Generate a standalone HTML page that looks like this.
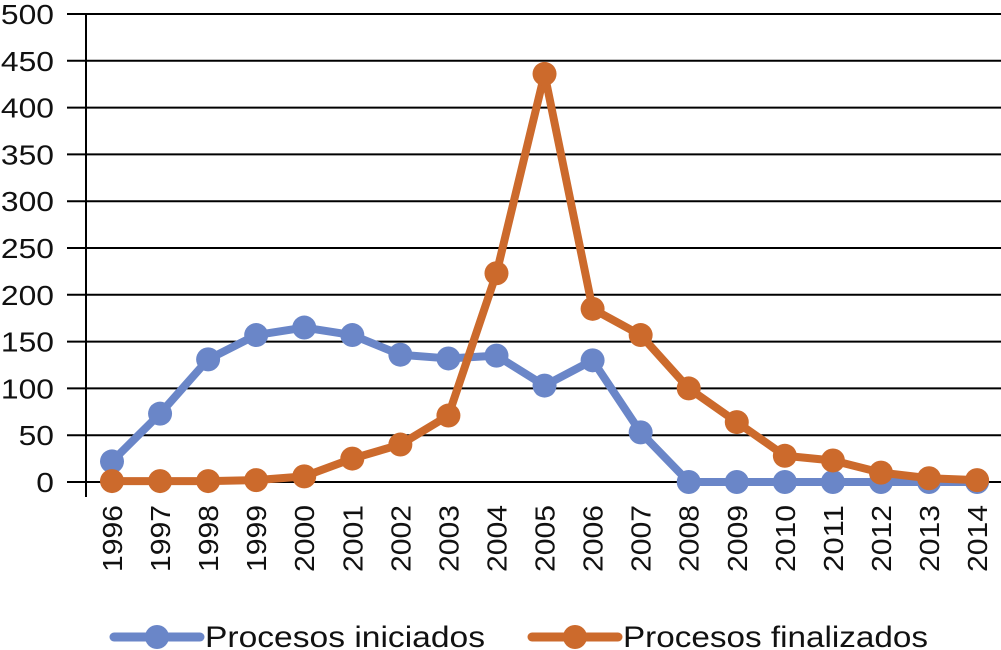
<!DOCTYPE html>
<html><head><meta charset="utf-8"><style>
html,body{margin:0;padding:0;background:#fff;width:1001px;height:650px;overflow:hidden}
text{font-family:"Liberation Sans",Arial,sans-serif;fill:#111}
</style></head><body>
<svg id="chart" width="1001" height="650" xmlns="http://www.w3.org/2000/svg"></svg>
<script>
const years=["1996","1997","1998","1999","2000","2001","2002","2003","2004","2005","2006","2007","2008","2009","2010","2011","2012","2013","2014"];
const iniciados=[22,73,131,157,165,157,136,132,135,103,130,53,0,0,0,0,0,0,0];
const finalizados=[1,1,1,2,6,25,40,71,223,436,185,157,100,64,28,23,10,4,2];
const yTicks=[0,50,100,150,200,250,300,350,400,450,500];
const svg=document.getElementById('chart');
const NS='http://www.w3.org/2000/svg';
const y0=482,y1=14,x0=112,dx=48.06;
const Y=v=>y0-(v/500)*(y0-y1);
const X=i=>x0+i*dx;
function mk(t,a){const e=document.createElementNS(NS,t);for(const k in a)e.setAttribute(k,a[k]);svg.appendChild(e);return e;}
yTicks.forEach(v=>{
  const l=mk('line',{x1:67,x2:1001,y1:Y(v),y2:Y(v),stroke:'#000','stroke-width':2});
  
  
  const s=String(v);
  const t=mk('text',{x:54,y:Y(v)+10,'text-anchor':'end','font-size':28,textLength:s.length*17.7,lengthAdjust:'spacingAndGlyphs'});
  t.textContent=v;
  
  
});
const ax=mk('line',{x1:86,x2:86,y1:14,y2:497,stroke:'#000','stroke-width':2});


years.forEach((yr,i)=>{
  const t=mk('text',{x:0,y:0,'font-size':28,'text-anchor':'end',textLength:67,lengthAdjust:'spacingAndGlyphs',transform:`translate(${X(i)+10},505) rotate(-90)`});
  t.textContent=yr;
  
  
});
function series(vals,color,name){
  const p=mk('polyline',{points:vals.map((v,i)=>X(i)+','+Y(v)).join(' '),fill:'none',stroke:color,'stroke-width':8,'stroke-linejoin':'round'});
  
  
  vals.forEach((v,i)=>{
    const c=mk('circle',{cx:X(i),cy:Y(v),r:12,fill:color});
    
    
  });
}
series(iniciados,'#6a86c8','iniciados');
series(finalizados,'#cc6a2c','finalizados');
function legend(x,color,label,name,w){
  const l=mk('line',{x1:x,x2:x+86,y1:637,y2:637,stroke:color,'stroke-width':9,'stroke-linecap':'round'});
  
  
  const c=mk('circle',{cx:x+43,cy:637,r:12,fill:color});
  
  
  const t=mk('text',{x:x+91,y:647,'font-size':30,textLength:w,lengthAdjust:'spacingAndGlyphs'});
  t.textContent=label;
  
  
}
legend(114,'#6a86c8','Procesos iniciados','iniciados',280);
legend(532,'#cc6a2c','Procesos finalizados','finalizados',305);
</script>
</body></html>
